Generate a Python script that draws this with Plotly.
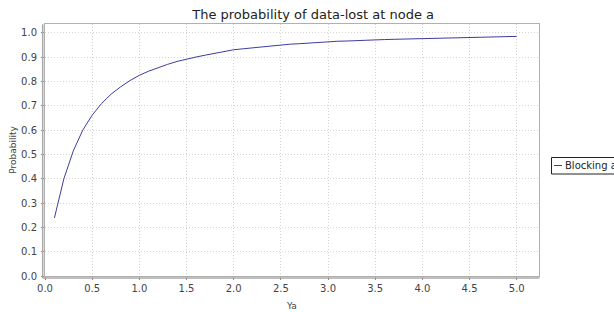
import plotly.graph_objects as go

title_text = "The probability of data-lost at node a"
series_name = "Blocking at node a"
x_label = "Ya"
y_label = "Probability"

ya_values = [round(0.1 * i, 1) for i in range(1, 51)]
probability = [
    0.239, 0.400, 0.515, 0.600, 0.662, 0.710, 0.748, 0.778, 0.804, 0.826,
    0.843, 0.858, 0.871, 0.883, 0.893, 0.901, 0.909, 0.917, 0.924, 0.931,
    0.935, 0.939, 0.943, 0.947, 0.951, 0.954, 0.956, 0.959, 0.961, 0.964,
    0.966, 0.967, 0.969, 0.970, 0.972, 0.973, 0.974, 0.975, 0.976, 0.977,
    0.978, 0.979, 0.980, 0.981, 0.982, 0.983, 0.983, 0.984, 0.985, 0.986,
]
x_ticks = [0.0, 0.5, 1.0, 1.5, 2.0, 2.5, 3.0, 3.5, 4.0, 4.5, 5.0]
y_ticks = [0.0, 0.1, 0.2, 0.3, 0.4, 0.5, 0.6, 0.7, 0.8, 0.9, 1.0]

W, H = 614, 312
L, R, T, B = 45, 75, 24, 36
PW, PH = W - L - R, H - T - B
LINE_COLOR = "#3d3d9e"
FONT = "DejaVu Sans"

fig = go.Figure()
fig.add_trace(go.Scatter(
    x=ya_values, y=probability, mode="lines", name=series_name,
    line=dict(color=LINE_COLOR, width=1), showlegend=False,
))

axis_common = dict(
    showgrid=True, gridcolor="#d4d4d4", griddash="1px,2px", gridwidth=1,
    zeroline=False, showline=True, linecolor="#b0b0b0", linewidth=1, mirror=True,
    ticks="outside", ticklen=3, tickcolor="#888888",
    tickfont=dict(family=FONT, size=10, color="#444444"),
)

fig.update_xaxes(
    range=[0, 5.236], tickvals=x_ticks, ticktext=[f"{v:.1f}" for v in x_ticks],
    title=dict(text=x_label, font=dict(family=FONT, size=9, color="#444444"), standoff=9),
    **axis_common,
)
fig.update_yaxes(
    range=[0, 1.037], tickvals=y_ticks, ticktext=[f"{v:.1f}" for v in y_ticks],
    title=dict(text=y_label, font=dict(family=FONT, size=9, color="#444444"), standoff=2),
    ticklabelstandoff=2,
    **axis_common,
)

def px_x(p):
    return (p - L) / PW

def px_y(p):
    return (H - B - p) / PH

shapes = [
    dict(type="line", xref="paper", yref="paper", x0=px_x(42.7), x1=px_x(42.7),
         y0=px_y(24.3), y1=px_y(278), line=dict(color="#a8a8a8", width=1.5)),
    dict(type="line", xref="paper", yref="paper", x0=px_x(42.7), x1=px_x(539.5),
         y0=px_y(278), y1=px_y(278), line=dict(color="#a8a8a8", width=1.5)),
    dict(type="rect", xref="paper", yref="paper", x0=px_x(551.5), x1=px_x(700),
         y0=px_y(157.5), y1=px_y(174), line=dict(color="#222222", width=1),
         fillcolor="white"),
    dict(type="line", xref="paper", yref="paper", x0=px_x(554), x1=px_x(562),
         y0=px_y(165.5), y1=px_y(165.5), line=dict(color=LINE_COLOR, width=1)),
]

annotations = [
    dict(text=series_name, xref="paper", yref="paper", x=px_x(563), y=px_y(165.5),
         xanchor="left", yanchor="middle", showarrow=False,
         font=dict(family=FONT, size=10, color="#222222")),
]

fig.update_layout(
    width=W, height=H,
    margin=dict(l=L, r=R, t=T, b=B, autoexpand=False),
    paper_bgcolor="white", plot_bgcolor="white",
    title=dict(text=title_text, x=0.51, xanchor="center", y=1 - 14 / H, yanchor="middle",
               font=dict(family=FONT, size=13, color="#222222")),
    shapes=shapes, annotations=annotations,
    showlegend=False,
)

fig.write_html(
    "out.html",
    config={"displayModeBar": False},
    post_script="document.body.style.margin='0';document.body.style.overflow='hidden';",
)
